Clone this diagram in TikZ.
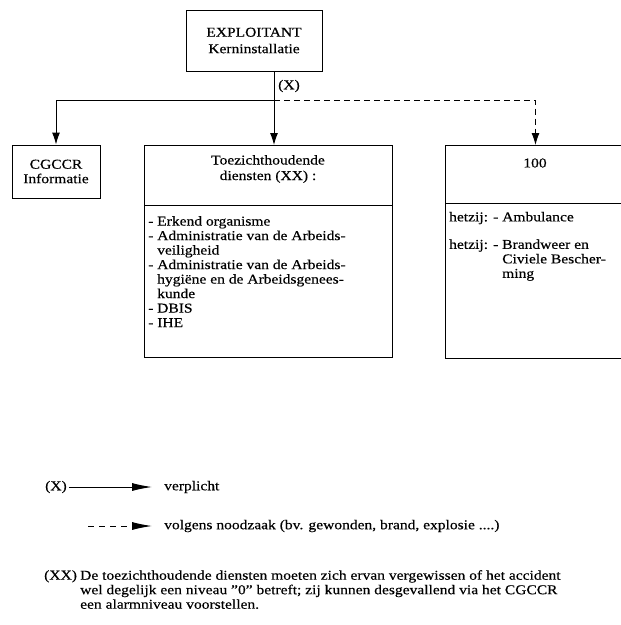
\documentclass[tikz,border=0pt]{standalone}
\usepackage{fontspec}
\setmainfont{Liberation Serif}[FakeStretch=1.15, FakeBold=0.4]
\usetikzlibrary{arrows.meta}
\begin{document}
\begin{tikzpicture}[x=1pt,y=-1pt,
  box/.style={draw, line width=1pt, inner sep=0pt},
  txt/.style={font=\fontsize{13.5}{14.5}\selectfont, inner sep=0pt},
  flow/.style={line width=1pt, -{Latex[length=12pt,width=8pt]}},
  opt/.style={flow, dash pattern=on 6pt off 4pt},
  legflow/.style={line width=1pt, -{Latex[length=20pt,width=8pt]}},
  legopt/.style={legflow, dash pattern=on 6pt off 5pt},
]
\useasboundingbox (0,0) rectangle (621,625);

% --- boxes ---
\node[box, txt, minimum width=136pt, minimum height=61pt, align=center]
  (expl) at (254,40.5) {EXPLOITANT\\[2pt]Kerninstallatie};
\node[box, txt, minimum width=88pt, minimum height=53pt, align=center]
  (cgccr) at (56,171.5) {CGCCR\\Informatie};
\node[box, anchor=north west, minimum width=248pt, minimum height=212pt]
  (toez) at (144,145) {};
\node[box, anchor=north west, minimum width=180pt, minimum height=213pt]
  (hulp) at (445,145) {};

% dividers between header and body
\draw[line width=1pt] (toez.west |- 0,205) -- (toez.east |- 0,205);
\draw[line width=1pt] (hulp.west |- 0,203) -- (hulp.east |- 0,203);

% headers
\node[txt, align=center] (toezhead) at (268,169) {Toezichthoudende\\[1pt]diensten (XX) :};
\node[txt] (hulphead) at (535,163) {100};

% bodies
\node[txt, anchor=north west, align=left] (toezbody) at (148,216) {%
- Erkend organisme\\
- Administratie van de Arbeids-\\
\phantom{- }veiligheid\\
- Administratie van de Arbeids-\\
\phantom{- }hygiëne en de Arbeidsgenees-\\
\phantom{- }kunde\\
- DBIS\\
- IHE};
\node[txt, anchor=north west, align=left] (hulpbody) at (449,211) {%
\begin{tabular}{@{}l@{ }l@{}}
hetzij: & - Ambulance\\[13pt]
hetzij: & - Brandweer en\\
        & \phantom{- }Civiele Bescher-\\
        & \phantom{- }ming
\end{tabular}};

% --- connectors ---
\coordinate (split) at (274,100);
\draw[flow] (expl.south -| split) -- (toez.north -| split);
\draw[flow] (split) -| (cgccr.north);
\draw[opt] (split) -| (hulp.north);
\node[txt] (xlabel) at (289,86) {(X)};

% --- legend ---
\node[txt, anchor=west] (lx) at (45,487) {(X)};
\node[txt, anchor=west] (lverpl) at (164,487) {verplicht};
\draw[legflow, shorten >=12pt] (lx.east) ++(2pt,0) -- (lverpl.west);
\coordinate (dstart) at (88,526);
\node[txt, anchor=west] (lvolg) at (164,526) {volgens noodzaak (bv. gewonden, brand, explosie ....)};
\draw[legopt, shorten >=12pt] (dstart) -- (lvolg.west);

% --- footnote ---
\node[txt, anchor=north west] (xx) at (44,570) {(XX)};
\node[txt, anchor=north west, align=left] (note) at (80,570) {%
De toezichthoudende diensten moeten zich ervan vergewissen of het accident\\
wel degelijk een niveau "0" betreft; zij kunnen desgevallend via het CGCCR\\
een alarmniveau voorstellen.};
\end{tikzpicture}
\end{document}
